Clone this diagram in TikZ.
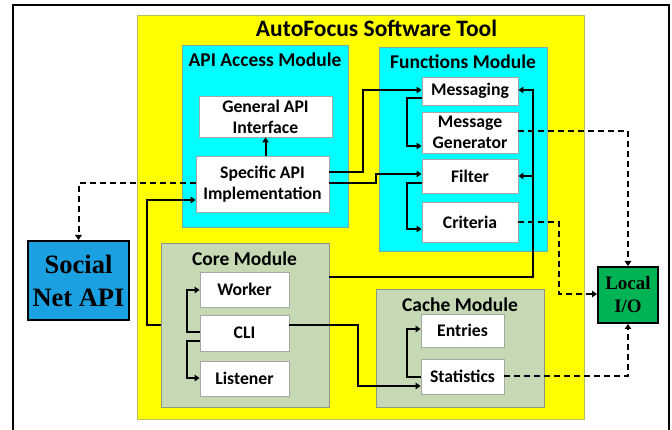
\documentclass[tikz,border=0pt]{standalone}
\usepackage{fontspec}
\setmainfont{Carlito}
\newfontfamily\serifb{Liberation Serif}
\usetikzlibrary{arrows.meta}
\definecolor{yel}{RGB}{255,255,0}
\definecolor{yelb}{RGB}{190,190,90}
\definecolor{cyn}{RGB}{0,255,255}
\definecolor{cynb}{RGB}{120,170,170}
\definecolor{grn}{RGB}{196,217,180}
\definecolor{grnb}{RGB}{140,150,130}
\definecolor{socblue}{RGB}{27,161,226}
\definecolor{locgrn}{RGB}{0,180,85}
\tikzset{
  modbox/.style={draw=#1, line width=0.8pt, inner sep=0pt},
  wbox/.style={draw=gray!70, fill=white, line width=0.8pt, inner sep=0pt, align=center,
    font=\fontsize{17.7}{21}\selectfont\bfseries},
  modlabel/.style={font=\fontsize{19.5}{23}\selectfont\bfseries, inner sep=0pt},
  extbox/.style={draw=black, line width=2pt, inner sep=0pt, align=center},
  conn/.style={line width=2pt, -{Triangle[length=5pt,width=6.5pt]}},
  dconn/.style={line width=2pt, dash pattern=on 6pt off 4pt, -{Triangle[length=5pt,width=6.5pt]}},
}
\begin{document}
\begin{tikzpicture}[x=1pt,y=-1pt]
\useasboundingbox (0,0) rectangle (672,430);
% outer frame
\draw[line width=2.5pt] (13,430) -- (13,5) -- (669,5) -- (669,430);
% modules
\node[modbox=yelb, fill=yel, minimum width=447, minimum height=404] (tool) at (360.5,217) {};
\node[font=\fontsize{23.5}{28}\selectfont\bfseries, inner sep=0pt] (title) at (376.5,28) {AutoFocus Software Tool};
\node[modbox=cynb, fill=cyn, minimum width=166, minimum height=182] (api) at (265,136) {};
\node[modlabel] (apil) at (265,60) {API Access Module};
\node[modbox=cynb, fill=cyn, minimum width=168, minimum height=204] (func) at (463,149) {};
\node[modlabel] (funcl) at (463,62) {Functions Module};
\node[modbox=grnb, fill=grn, minimum width=168, minimum height=164] (core) at (245,325) {};
\node[modlabel] (corel) at (244.5,259) {Core Module};
\node[modbox=grnb, fill=grn, minimum width=168, minimum height=118] (cache) at (460,348) {};
\node[modlabel] (cachel) at (460,305) {Cache Module};
% inner boxes
\node[wbox, minimum width=133, minimum height=41] (gen) at (265.5,116.5) {General API\\Interface};
\node[wbox, minimum width=133, minimum height=56] (spec) at (262.5,184) {Specific API\\Implementation};
\node[wbox, minimum width=96, minimum height=28] (msg) at (470,91) {Messaging};
\node[wbox, minimum width=96, minimum height=41] (mgen) at (470,132.5) {Message\\Generator};
\node[wbox, minimum width=96, minimum height=34] (filter) at (470,176) {Filter};
\node[wbox, minimum width=96, minimum height=40] (crit) at (470,222) {Criteria};
\node[wbox, minimum width=89, minimum height=35] (worker) at (244.5,289.5) {Worker};
\node[wbox, minimum width=89, minimum height=36] (cli) at (244.5,333) {CLI};
\node[wbox, minimum width=89, minimum height=35] (listener) at (244.5,378.5) {Listener};
\node[wbox, minimum width=83, minimum height=33] (entries) at (462.5,330.5) {Entries};
\node[wbox, minimum width=83, minimum height=35] (stats) at (462.5,376.5) {Statistics};
% external
\node[extbox, fill=socblue, minimum width=101, minimum height=79,
  font=\fontsize{26.5}{33}\selectfont\serifb\bfseries] (social) at (78.5,280.5) {Social\\Net API};
\node[extbox, fill=locgrn, minimum width=60, minimum height=56,
  font=\fontsize{19}{23}\selectfont\serifb\bfseries] (local) at (628,295) {Local\\I/O};
% solid connectors
\draw[conn] (gen.south |- spec.north) -- (gen.south);
\draw[conn] (spec.east |- 0,172) -| (363,90) -- (msg.west |- 0,90);
\draw[conn] (spec.east |- 0,183) -| (376,174) -- (filter.west |- 0,174);
\draw[conn] (msg.west |- 0,98) -| (407,146) -- (mgen.west |- 0,146);
\draw[conn] (filter.west |- 0,183) -| (407,229) -- (crit.west |- 0,229);
\draw[conn] (core.east |- 0,277) -| (533,90) -- (msg.east |- 0,90);
\draw[conn] (533,176) -- (filter.east |- 0,176);
\draw[conn] (cli.west |- 0,332) -| (187,290) -- (worker.west |- 0,290);
\draw[conn] (cli.west |- 0,341) -| (187,378) -- (listener.west |- 0,378);
\draw[conn] (core.west |- 0,325) -| (147,200) -- (spec.west |- 0,200);
\draw[conn] (cli.east |- 0,325) -| (358,386) -- (stats.west |- 0,386);
\draw[conn] (stats.west |- 0,377) -| (407,329) -- (entries.west |- 0,329);
% dashed connectors
\draw[dconn] (spec.west |- 0,183) -| (social.north);
\draw[dconn] (mgen.east |- 0,131) -| (local.north);
\draw[dconn] (crit.east |- 0,222) -| (559,294) -- (local.west |- 0,294);
\draw[dconn] (stats.east |- 0,376) -| (local.south);
\end{tikzpicture}
\end{document}
